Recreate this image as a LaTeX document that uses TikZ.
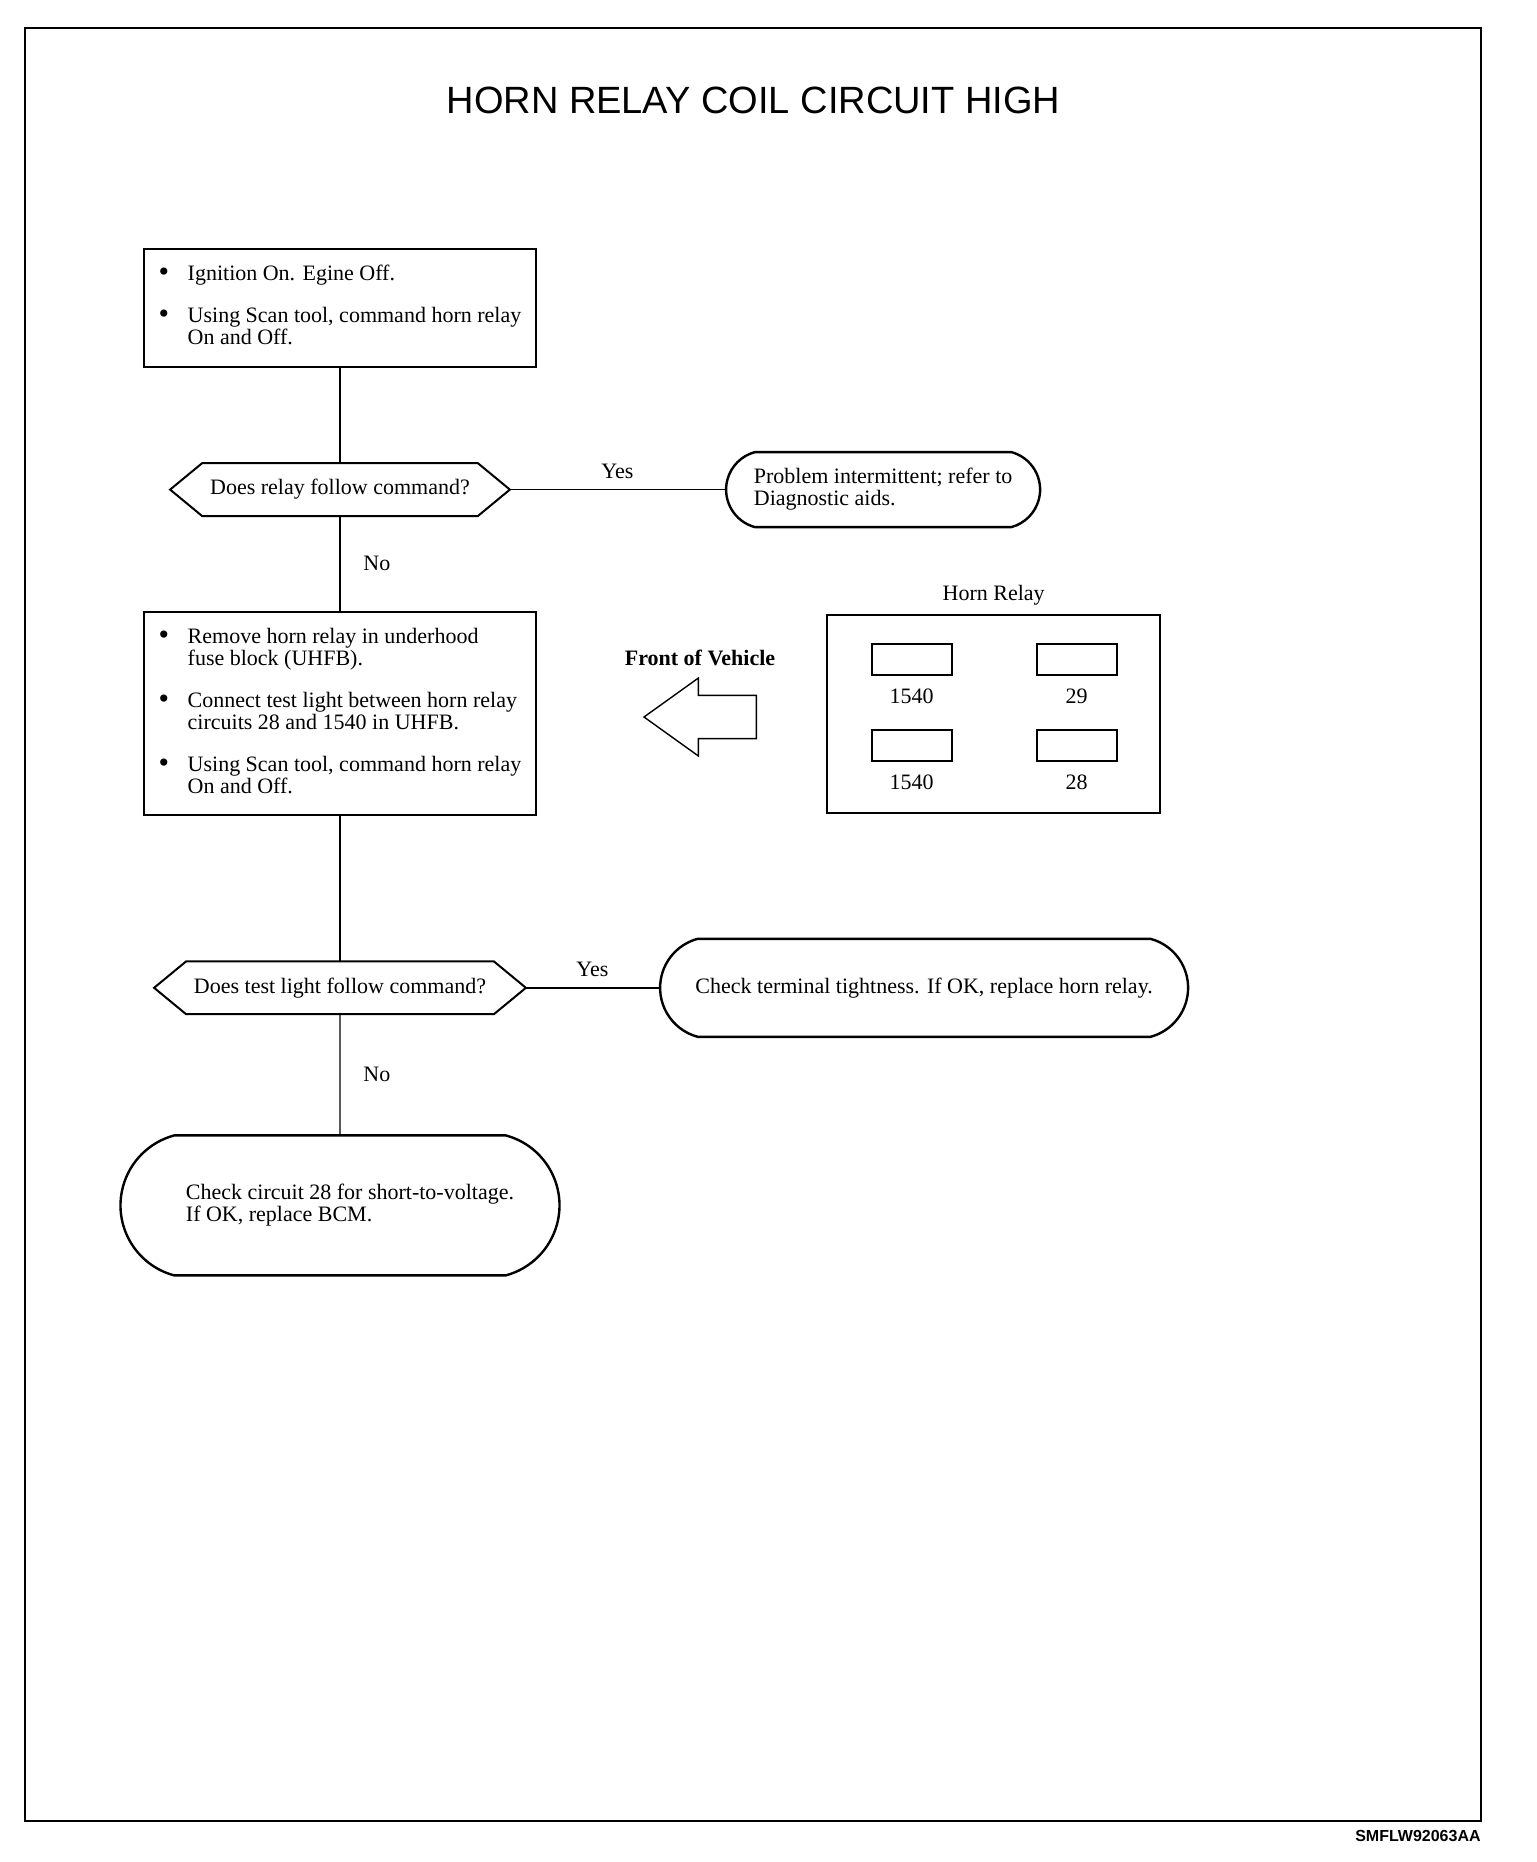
\documentclass[tikz,border=0pt]{standalone}
\usepackage{fontspec}
\setmainfont{Liberation Serif}
\setsansfont{Liberation Sans}
\usetikzlibrary{
  positioning,
  shapes.misc
}
\newcommand{\hornbullet}{\raisebox{-0.6pt}{\fontsize{15}{11}\selectfont\textbullet}}

\begin{document}
\begin{tikzpicture}[
  x=1pt, y=1pt,
  every node/.style={font=\fontsize{11}{11}\selectfont},
  process/.style={draw, rectangle, line width=1.2pt, minimum width=196pt, inner sep=0pt},
  decision/.style={rectangle, minimum height=26pt, inner sep=0pt,
    append after command={\pgfextra{\draw[line width=1pt]
      (\tikzlastnode.west) -- ([xshift=16pt]\tikzlastnode.north west)
      -- ([xshift=-16pt]\tikzlastnode.north east) -- (\tikzlastnode.east)
      -- ([xshift=-16pt]\tikzlastnode.south east)
      -- ([xshift=16pt]\tikzlastnode.south west) -- cycle;}}},
  terminal/.style={draw, rounded rectangle, rounded rectangle arc length=150, line width=1.2pt, align=left, inner sep=0pt},
  relaybox/.style={draw, rectangle, line width=1pt, minimum width=166.5pt, minimum height=99pt},
  socket/.style={draw, rectangle, line width=0.8pt, minimum width=40pt, minimum height=15.5pt, inner sep=0pt},
  conn/.style={line width=0.7pt}
]
\useasboundingbox (0,0) rectangle (768,-931);

% Frame and title
\draw[line width=1.3pt] (12.5,-14) rectangle (740.5,-910.5);
\node[font=\sffamily\fontsize{19}{19}\selectfont] (title) at (376.75,-50.25) {HORN RELAY COIL CIRCUIT HIGH};
\node[anchor=east, inner sep=0pt, font=\sffamily\bfseries\fontsize{8}{8}\selectfont] (figcode) at (740.5,-918) {SMFLW92063AA};

% Main column
\node[process, minimum height=59pt] (ignition) at (170,-154) {%
  \begin{tabular}{@{}p{14.5pt}@{}l@{}}
  \hornbullet & Ignition On. Egine Off.\\[10pt]
  \hornbullet & Using Scan tool, command horn relay\\
              & On and Off.
  \end{tabular}};
\node[decision, minimum width=169.5pt, below=47.5pt of ignition] (follow) {Does relay follow command?};
\node[process, minimum height=101.5pt, below=47.5pt of follow] (remove) {%
  \begin{tabular}{@{}p{14.5pt}@{}l@{}}
  \hornbullet & Remove horn relay in underhood\\
              & fuse block (UHFB).\\[10pt]
  \hornbullet & Connect test light between horn relay\\
              & circuits 28 and 1540 in UHFB.\\[10pt]
  \hornbullet & Using Scan tool, command horn relay\\
              & On and Off.
  \end{tabular}};
\node[decision, minimum width=185.5pt, below=72.5pt of remove] (testlight) {Does test light follow command?};
\node[terminal, minimum width=219.5pt, minimum height=70pt, below=60pt of testlight] (shortvolt) {\hspace*{10pt}Check circuit 28 for short-to-voltage.\\\hspace*{10pt}If OK, replace BCM.};

% Results on the right
\node[terminal, minimum width=157pt, minimum height=37.5pt, right=107.5pt of follow] (intermit) {Problem intermittent; refer to\\Diagnostic aids.};
\node[terminal, minimum width=264pt, minimum height=49pt, right=66.5pt of testlight] (tighten) {Check terminal tightness. If OK, replace horn relay.};

% Horn relay cavities
\node[relaybox, right=144.5pt of remove] (relay) {};
\node[above=0.5pt of relay] (relaytitle) {Horn Relay};
\node[socket] (cavTL) at ([xshift=-41pt, yshift=27pt]relay.center) {};
\node[socket] (cavTR) at ([xshift=41.5pt, yshift=27pt]relay.center) {};
\node[socket] (cavBL) at ([xshift=-41pt, yshift=-15.75pt]relay.center) {};
\node[socket] (cavBR) at ([xshift=41.5pt, yshift=-15.75pt]relay.center) {};
\node[below=3pt of cavTL] (numTL) {1540};
\node[below=3pt of cavTR] (numTR) {29};
\node[below=3pt of cavBL] (numBL) {1540};
\node[below=3pt of cavBR] (numBR) {28};

% Front of vehicle arrow
\coordinate (fronttip) at (322,-358.5);
\draw[line width=0.7pt] (fronttip) -- ++(27.2,19.5) -- ++(0,-8.7) -- ++(29,0) -- ++(0,-21.6) -- ++(-29,0) -- ++(0,-8.7) -- cycle;
\node[font=\bfseries\fontsize{11}{11}\selectfont] (fronttext) at (350,-329) {Front of Vehicle};

% Connectors
\draw[conn] (ignition) -- (follow);
\draw[conn] (follow) -- node[above=2pt] (yes1) {Yes} (intermit);
\draw[conn] (follow) -- node[right=8pt] (no1) {No} (remove);
\draw[conn] (remove) -- (testlight);
\draw[conn] (testlight) -- node[above=2pt] (yes2) {Yes} (tighten);
\draw[conn] (testlight) -- node[right=8pt] (no2) {No} (shortvolt);

\end{tikzpicture}
\end{document}
